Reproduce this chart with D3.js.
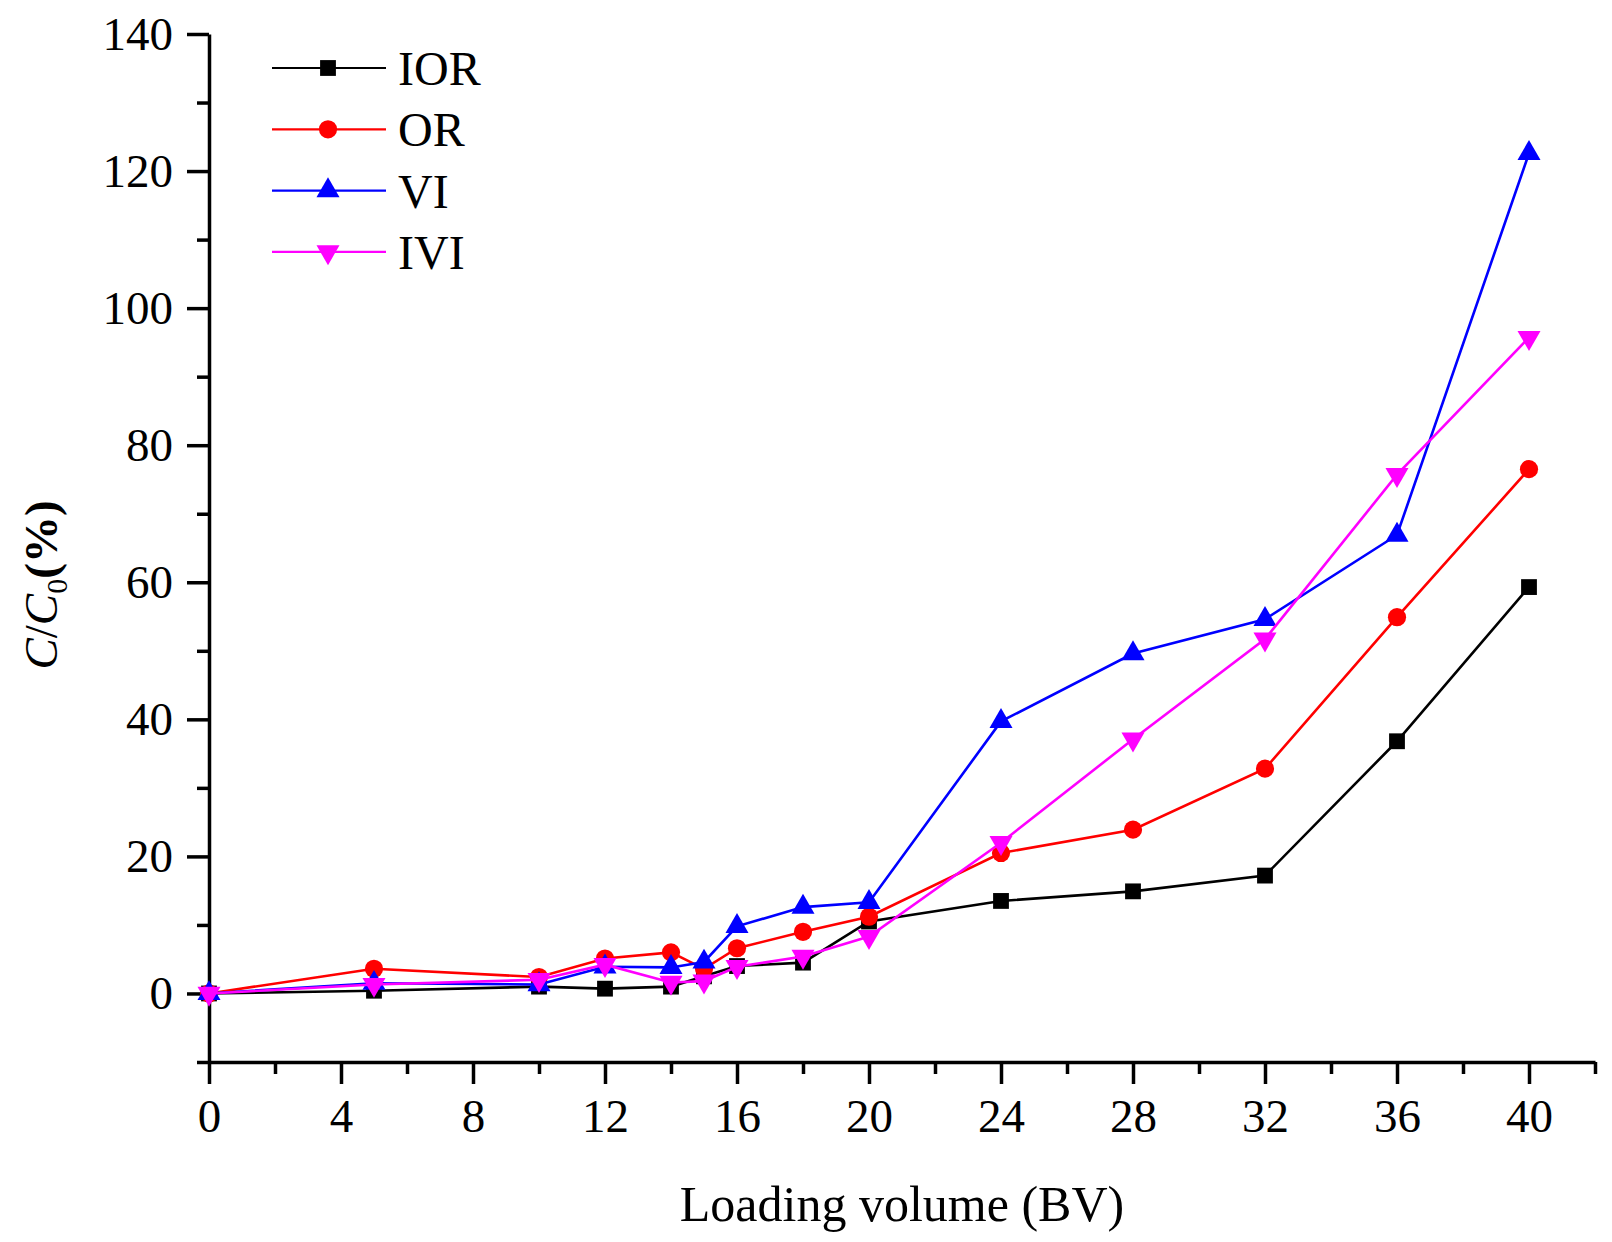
<!DOCTYPE html>
<head>
    <meta charset="utf-8">
    <script src="https://d3js.org/d3.v7.min.js"></script>
    <style>
        body { margin: 0; background: #fff; }
        text { font-family: "Liberation Serif", "Times New Roman", serif; }
    </style>
</head>

<body>
    <div id="chart"></div>
</body>

<script>
    // data
    const bv  = [0, 5, 10, 12, 14, 15, 16, 18, 20, 24, 28, 32, 36, 40];
    const ior = [0, 0.4, 1.0, 0.7, 1.0, 2.5, 4.0, 4.5, 10.5, 13.5, 14.9, 17.2, 36.8, 59.3];
    const or  = [0, 3.6, 2.4, 5.1, 6.0, 3.6, 6.6, 9.0, 11.2, 20.5, 23.9, 32.8, 54.9, 76.5];
    const vi  = [0, 1.5, 1.3, 3.9, 3.8, 4.6, 9.8, 12.6, 13.3, 39.7, 49.6, 54.6, 66.9, 122.6];
    const ivi = [0, 1.3, 2.0, 4.2, 1.6, 1.8, 3.9, 5.4, 8.3, 22.0, 37.1, 51.7, 75.7, 95.7];

    const seriesNames = ["IOR", "OR", "VI", "IVI"];
    const xTicks = [0, 4, 8, 12, 16, 20, 24, 28, 32, 36, 40];
    const yTicks = [0, 20, 40, 60, 80, 100, 120, 140];

    const W = 1612, H = 1242;
    const svg = d3.select("#chart").append("svg")
        .attr("width", W).attr("height", H);

    const x = d3.scaleLinear().domain([0, 42]).range([209, 1595]);
    const y = d3.scaleLinear().domain([-10, 140]).range([1062, 34]);

    const styles = {
        IOR: {color: "#000000", symbol: d3.symbolSquare, size: 250, rot: 0},
        OR:  {color: "#ff0000", symbol: d3.symbolCircle, size: 260, rot: 0},
        VI:  {color: "#0000ff", symbol: d3.symbolTriangle, size: 230, rot: 0},
        IVI: {color: "#ff00ff", symbol: d3.symbolTriangle, size: 230, rot: 180}
    };
    const values = {IOR: ior, OR: or, VI: vi, IVI: ivi};

    // X axis
    const xAxis = svg.append("g")
        .attr("transform", `translate(0, ${y(-10)})`)
        .call(d3.axisBottom(x).tickValues(xTicks).tickSize(22).tickPadding(14).tickSizeOuter(0));
    svg.append("g")
        .attr("transform", `translate(0, ${y(-10)})`)
        .call(d3.axisBottom(x).tickValues(d3.range(2, 43, 4)).tickSize(12).tickFormat("").tickSizeOuter(0))
        .select(".domain").remove();

    // Y axis
    const yAxis = svg.append("g")
        .attr("transform", `translate(${x(0)}, 0)`)
        .call(d3.axisLeft(y).tickValues(yTicks).tickSize(22).tickPadding(14).tickSizeOuter(0));
    svg.append("g")
        .attr("transform", `translate(${x(0)}, 0)`)
        .call(d3.axisLeft(y).tickValues(d3.range(-10, 140, 20)).tickSize(12).tickFormat("").tickSizeOuter(0))
        .select(".domain").remove();

    svg.selectAll(".domain").attr("stroke", "#000").attr("stroke-width", 3.5);
    svg.selectAll(".tick line").attr("stroke", "#000").attr("stroke-width", 3.5);
    svg.selectAll(".tick text").attr("font-size", 47).attr("fill", "#000")
        .style("font-family", "'Liberation Serif', serif");
    xAxis.selectAll(".tick text").attr("dy", "0.72em");

    // Lines and markers
    const line = d3.line()
        .x(d => x(d[0]))
        .y(d => y(d[1]));

    seriesNames.forEach(name => {
        const st = styles[name];
        const pts = bv.map((b, i) => [b, values[name][i]]);
        const g = svg.append("g");
        g.append("path")
            .datum(pts)
            .attr("fill", "none")
            .attr("stroke", st.color)
            .attr("stroke-width", 2.6)
            .attr("d", line);
        g.selectAll("path.pt")
            .data(pts)
            .enter()
            .append("path")
            .attr("class", "pt")
            .attr("d", d3.symbol().type(st.symbol).size(st.size))
            .attr("fill", st.color)
            .attr("transform", d => `translate(${x(d[0])},${y(d[1])}) rotate(${st.rot})`);
    });

    // Legend
    const legend = svg.append("g");
    seriesNames.forEach((name, i) => {
        const st = styles[name];
        const ly = 68 + i * 61.3;
        legend.append("line")
            .attr("x1", 272).attr("x2", 386)
            .attr("y1", ly).attr("y2", ly)
            .attr("stroke", st.color).attr("stroke-width", 2.2);
        legend.append("path")
            .attr("d", d3.symbol().type(st.symbol).size(st.size))
            .attr("fill", st.color)
            .attr("transform", `translate(328,${ly}) rotate(${st.rot})`);
        legend.append("text")
            .attr("x", 398).attr("y", ly + 17)
            .attr("font-size", 48)
            .text(name);
    });

    // Axis titles
    svg.append("text")
        .attr("x", (x(0) + x(42)) / 2)
        .attr("y", 1221)
        .attr("text-anchor", "middle")
        .attr("font-size", 50)
        .text("Loading volume (BV)");

    const yl = svg.append("text")
        .attr("transform", "translate(57, 585) rotate(-90)")
        .attr("text-anchor", "middle")
        .attr("font-size", 47);
    yl.append("tspan").attr("font-style", "italic").text("C");
    yl.append("tspan").text("/");
    yl.append("tspan").attr("font-style", "italic").text("C");
    yl.append("tspan").attr("font-size", 30).attr("dy", 10).text("0");
    yl.append("tspan").attr("font-weight", "bold").attr("dy", -10).text("(%)");
</script>
</html>
